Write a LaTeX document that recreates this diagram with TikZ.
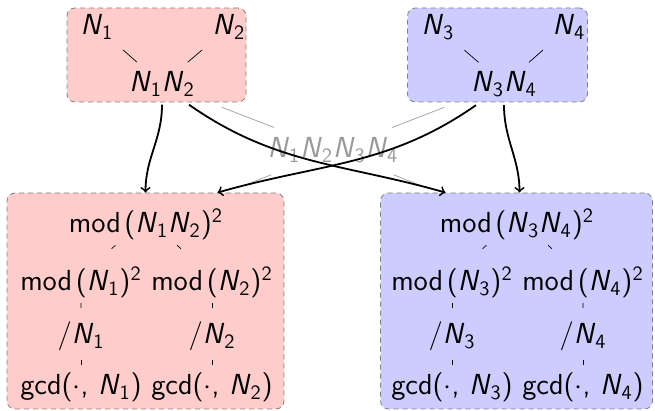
\documentclass[tikz,border=0pt]{standalone}
\usepackage{amsmath}
\usetikzlibrary{calc}
\newcommand\Nv[1]{\textit{N}\ensuremath{_{\text{#1}}}}
\newcommand\sqv{\ensuremath{^{\text{2}}}}
\newcommand\modv{mod\hspace{0.12em}}
\newcommand\dotv{\ensuremath{\cdot}}
\tikzset{
  lbl/.style={inner sep=0pt, anchor=base},
  pinkbox/.style={draw=gray, fill=red!20, dash pattern=on 2.5pt off 2pt, line width=0.4pt, rounded corners=4pt, inner sep=0pt},
  bluebox/.style={draw=gray, fill=blue!20, dash pattern=on 2.5pt off 2pt, line width=0.4pt, rounded corners=4pt, inner sep=0pt},
  tick/.style={line width=0.35pt, black},
  grayedge/.style={line width=0.4pt, black!35},
  flow/.style={->, line width=0.9pt, black},
}
\begin{document}
\begin{tikzpicture}[x=0.5pt, y=-0.5pt, font=\fontsize{14.5}{17}\selectfont\sffamily]
\useasboundingbox (0,0) rectangle (655,411);
% boxes
\node[pinkbox, minimum width=89.5pt, minimum height=47pt] (boxTL) at (156.5,55) {};
\node[bluebox, minimum width=90pt, minimum height=47pt] (boxTR) at (497.5,55) {};
\node[pinkbox, minimum width=138.5pt, minimum height=108pt] (boxL) at (145.5,301) {};
\node[bluebox, minimum width=136pt, minimum height=108pt] (boxR) at (516.5,301) {};
% top-left tree
\node[lbl] (n1) at (97,35) {\Nv1};
\node[lbl] (n2) at (229,35) {\Nv2};
\node[lbl] (n12) at (162,92) {\Nv1\Nv2};
\draw[tick] ($(n1.center)!0.40!(n12.center)$) -- ($(n1.center)!0.615!(n12.center)$);
\draw[tick] ($(n2.center)!0.40!(n12.center)$) -- ($(n2.center)!0.615!(n12.center)$);
% top-right tree
\node[lbl] (n3) at (438,35) {\Nv3};
\node[lbl] (n4) at (569,35) {\Nv4};
\node[lbl] (n34) at (504,92) {\Nv3\Nv4};
\draw[tick] ($(n3.center)!0.40!(n34.center)$) -- ($(n3.center)!0.615!(n34.center)$);
\draw[tick] ($(n4.center)!0.40!(n34.center)$) -- ($(n4.center)!0.615!(n34.center)$);
% bottom-left tree
\node[lbl] (r1) at (146,233) {\modv(\Nv1\Nv2)\sqv};
\node[lbl] (a1) at (81,291) {\modv(\Nv1)\sqv};
\node[lbl] (a2) at (212,291) {\modv(\Nv2)\sqv};
\node[lbl] (b1) at (81,344) {/\Nv1};
\node[lbl] (b2) at (212,344) {/\Nv2};
\node[lbl] (c1) at (81,395) {gcd(\dotv, \Nv1)};
\node[lbl] (c2) at (212,395) {gcd(\dotv, \Nv2)};
% bottom-right tree
\node[lbl] (r2) at (517,233) {\modv(\Nv3\Nv4)\sqv};
\node[lbl] (a3) at (452,291) {\modv(\Nv3)\sqv};
\node[lbl] (a4) at (583,291) {\modv(\Nv4)\sqv};
\node[lbl] (b3) at (452,344) {/\Nv3};
\node[lbl] (b4) at (583,344) {/\Nv4};
\node[lbl] (c3) at (452,395) {gcd(\dotv, \Nv3)};
\node[lbl] (c4) at (583,395) {gcd(\dotv, \Nv4)};
\foreach \p/\c in {r1/a1, r1/a2, r2/a3, r2/a4}{
  \draw[tick] ($(\p.base)!0.47!(\c.base)+(0,-15)$) -- ($(\p.base)!0.53!(\c.base)+(0,-15)$);
}
\foreach \p/\c in {a1/b1, a2/b2, a3/b3, a4/b4}{
  \draw[tick] ($(\p.base)!0.226!(\c.base)$) -- ($(\p.base)!0.32!(\c.base)$);
}
\foreach \p/\c in {b1/c1, b2/c2, b3/c3, b4/c4}{
  \draw[tick] ($(\p.base)!0.31!(\c.base)$) -- ($(\p.base)!0.41!(\c.base)$);
}
% gray product node
\node[lbl, text=black!40] (all) at (333,158) {\Nv1\Nv2\Nv3\Nv4};
\draw[grayedge] ($(n12.center)!0.35!(all.center)$) -- ($(n12.center)!0.655!(all.center)$);
\draw[grayedge] ($(n34.center)!0.35!(all.center)$) -- ($(n34.center)!0.655!(all.center)$);
\draw[grayedge] ($(all.center)!0.33!(r1.center)$) -- ($(all.center)!0.48!(r1.center)$);
\draw[grayedge] ($(all.center)!0.33!(r2.center)$) -- ($(all.center)!0.48!(r2.center)$);
% arrows
\draw[flow] ([yshift=-4pt]n12.south) to[out=-90, in=90] (boxL.north);
\draw[flow] ([xshift=13.5pt, yshift=-4pt]n12.south) to[out=-35, in=164] ([xshift=-35.5pt]boxR.north);
\draw[flow] ([xshift=-14pt, yshift=-4pt]n34.south) to[out=-145, in=16] ([xshift=36pt]boxL.north);
\draw[flow] ([yshift=-4pt]n34.south) to[out=-90, in=90] ([xshift=1.5pt]boxR.north);
\end{tikzpicture}
\end{document}
